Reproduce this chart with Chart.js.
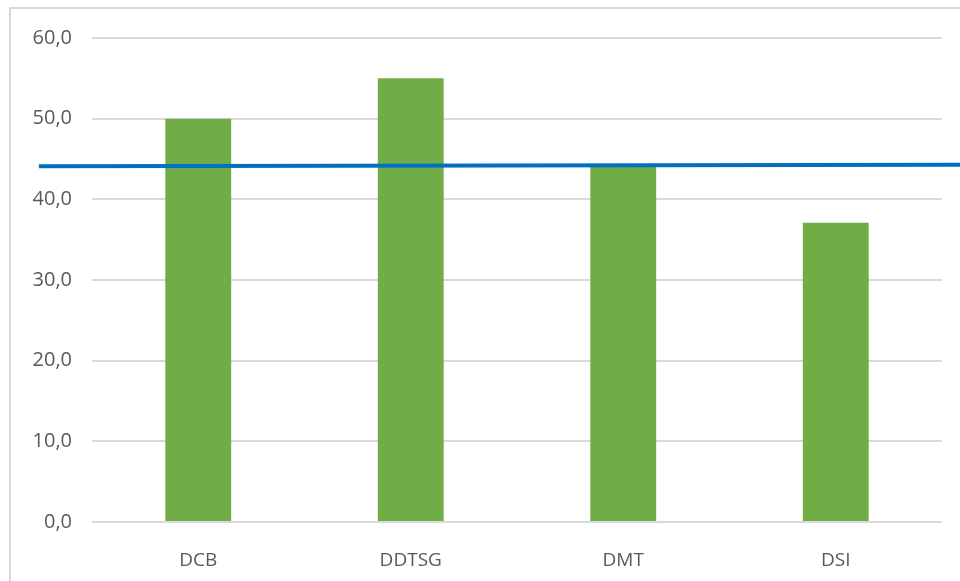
<!DOCTYPE html>
<html>
<head>
<meta charset="utf-8">
<script src="https://cdn.jsdelivr.net/npm/chart.js@4"></script>
<style>
  html, body { margin: 0; padding: 0; background: #fff; }
  #wrap { position: relative; width: 960px; height: 581px; }
  #frame { position: absolute; left: 9px; top: 7px; right: 0; bottom: 0;
           border-left: 2px solid #d9d9d9; border-top: 2px solid #d9d9d9; }
  canvas { position: absolute; left: 0; top: 0; }
</style>
</head>
<body>
<div id="wrap">
  <div id="frame"></div>
  <canvas id="chart" width="960" height="581"></canvas>
</div>
<script>
const categories = ['DCB', 'DDTSG', 'DMT', 'DSI'];
const barValues = [50.0, 55.0, 44.2, 37.1];
const yTicks = [0, 10, 20, 30, 40, 50, 60];

// blue reference line, ends given in category units (it runs past the plot)
const refLineX = [-0.75, 3.75];
const refLineY = [44.1, 44.3];

const refPoints = refLineX.map((x, i) => ({ x: x, y: refLineY[i] }));

const ctx = document.getElementById('chart');
new Chart(ctx, {
  data: {
    labels: categories,
    datasets: [
      {
        type: 'line',
        data: refPoints,
        xAxisID: 'x2',
        borderColor: '#0070C0',
        borderWidth: 4,
        pointRadius: 0,
        clip: false,
        order: 0
      },
      {
        type: 'bar',
        data: barValues,
        xAxisID: 'x',
        backgroundColor: '#70AD47',
        barPercentage: 0.31,
        categoryPercentage: 1,
        grouped: false,
        order: 1
      }
    ]
  },
  options: {
    responsive: false,
    animation: false,
    layout: { padding: { top: 38, right: 18, left: 0, bottom: 0 } },
    plugins: { legend: { display: false }, tooltip: { enabled: false } },
    scales: {
      x: {
        type: 'category',
        offset: true,
        grid: { display: false },
        border: { display: false },
        ticks: { color: '#595959', font: { family: 'Open Sans', size: 19 }, padding: 19 },
        afterFit: s => { s.height = 59; }
      },
      x2: {
        type: 'linear',
        display: false,
        min: -0.5,
        max: categories.length - 0.5
      },
      y: {
        min: 0,
        max: 60,
        afterBuildTicks: s => { s.ticks = yTicks.map(v => ({ value: v })); },
        grid: { color: '#d9d9d9', lineWidth: 2, drawTicks: false },
        border: { display: false },
        ticks: {
          color: '#595959',
          font: { family: 'Open Sans', size: 20 },
          padding: 20,
          callback: v => v.toFixed(1).replace('.', ',')
        },
        afterFit: s => { s.width = 92; }
      }
    }
  }
});
</script>
</body>
</html>
